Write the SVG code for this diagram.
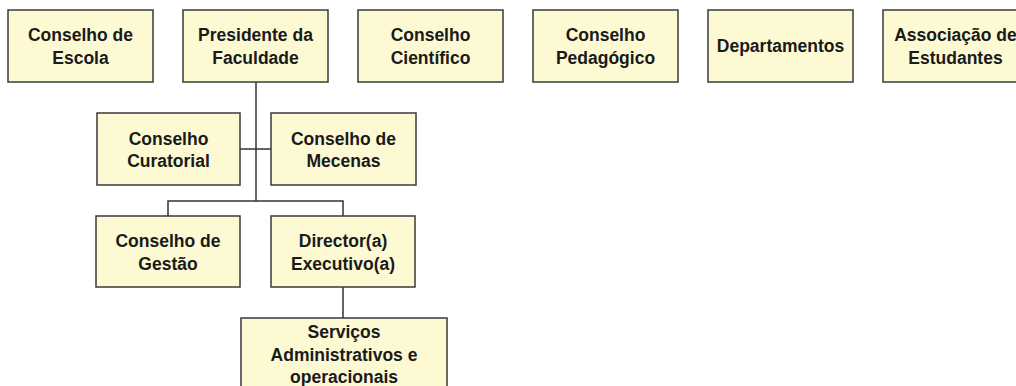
<svg xmlns="http://www.w3.org/2000/svg" width="1016" height="386" viewBox="0 0 1016 386">
<style>
.box{fill:#fdf9d3;stroke:#3a3a3a;stroke-width:1.5}
.t{font-family:"Liberation Sans",Arial,sans-serif;font-weight:bold;font-size:17.5px;fill:#1a1a1a;text-anchor:middle}
.c{fill:none;stroke:#333;stroke-width:1.5}
</style>
<rect width="1016" height="386" fill="#fff"/>
<g id="connectors">
<path class="c" d="M256,82 V201 M240,149 H271 M168,216 V201 H343 V216 M343,287 V318"/>
</g>
<g id="conselho-escola"><rect class="box" x="8" y="10" width="145" height="72"/><text class="t" x="80.5" y="41">Conselho de</text><text class="t" x="80.5" y="64">Escola</text></g>
<g id="presidente"><rect class="box" x="183" y="10" width="145" height="72"/><text class="t" x="255.5" y="41">Presidente da</text><text class="t" x="255.5" y="64">Faculdade</text></g>
<g id="cientifico"><rect class="box" x="358" y="10" width="145" height="72"/><text class="t" x="430.5" y="41">Conselho</text><text class="t" x="430.5" y="64">Científico</text></g>
<g id="pedagogico"><rect class="box" x="533" y="10" width="145" height="72"/><text class="t" x="605.5" y="41">Conselho</text><text class="t" x="605.5" y="64">Pedagógico</text></g>
<g id="departamentos"><rect class="box" x="708" y="10" width="145" height="72"/><text class="t" x="780.5" y="52">Departamentos</text></g>
<g id="associacao"><rect class="box" x="883" y="10" width="145" height="72"/><text class="t" x="955.5" y="41">Associação de</text><text class="t" x="955.5" y="64">Estudantes</text></g>
<g id="curatorial"><rect class="box" x="97" y="113" width="143" height="72"/><text class="t" x="168.5" y="145">Conselho</text><text class="t" x="168.5" y="167">Curatorial</text></g>
<g id="mecenas"><rect class="box" x="271" y="113" width="145" height="72"/><text class="t" x="343.5" y="145">Conselho de</text><text class="t" x="343.5" y="167">Mecenas</text></g>
<g id="gestao"><rect class="box" x="96" y="216" width="144" height="71"/><text class="t" x="168" y="247">Conselho de</text><text class="t" x="168" y="270">Gestão</text></g>
<g id="director"><rect class="box" x="271" y="216" width="144" height="71"/><text class="t" x="343" y="247">Director(a)</text><text class="t" x="343" y="270">Executivo(a)</text></g>
<g id="servicos"><rect class="box" x="241" y="318" width="206" height="80"/><text class="t" x="344" y="338">Serviços</text><text class="t" x="344" y="361">Administrativos e</text><text class="t" x="344" y="383">operacionais</text></g>
</svg>
